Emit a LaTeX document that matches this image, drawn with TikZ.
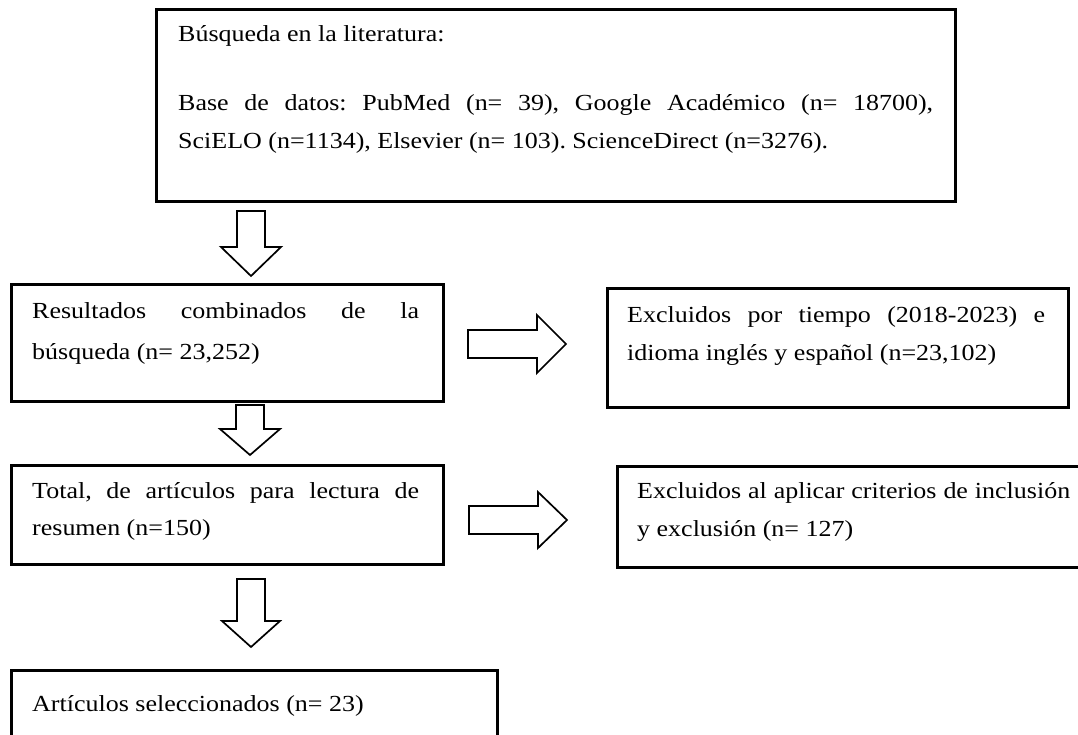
\documentclass[tikz,border=0pt]{standalone}
\usepackage{fontspec}
\setmainfont{Liberation Serif}[FakeStretch=1.13]
\frenchspacing
\begin{document}
\begin{tikzpicture}[x=1pt,y=-1pt,
  box/.style={draw=black, line width=2.6pt, rectangle, anchor=north west, inner sep=0pt},
  txt/.style={anchor=base west, inner sep=0pt, font=\fontsize{23}{28}\selectfont},
  blockarrow/.style={draw=black, line width=1.7pt, fill=white, line join=miter}]
\useasboundingbox (0,0) rectangle (1078,734);
\clip (0,0) rectangle (1078,734);
\fill[white] (0,0) rectangle (1078,734);

% boxes
\node[box, minimum width=799pt, minimum height=192pt] (b1) at (155,8) {};
\node[box, minimum width=432pt, minimum height=117pt] (b2) at (10,283) {};
\node[box, minimum width=432pt, minimum height=99pt] (b3) at (10,464) {};
\node[box, minimum width=486pt, minimum height=100pt] (b4) at (10,669) {};
\node[box, minimum width=461pt, minimum height=119pt] (e1) at (606,287) {};
\node[box, minimum width=484pt, minimum height=101pt] (e2) at (616,465) {};

% texts
\node[txt] (t1a) at (178,41) {Búsqueda en la literatura:};
\node[txt] (t1b) at (178,110) {\makebox[755pt][s]{Base de datos: PubMed (n= 39), Google Académico (n= 18700),}};
\node[txt] (t1c) at (178,148) {SciELO (n=1134), Elsevier (n= 103). ScienceDirect (n=3276).};
\node[txt] (t2a) at (32,318) {\makebox[387pt][s]{Resultados combinados de la}};
\node[txt] (t2b) at (32,359) {búsqueda (n= 23,252)};
\node[txt] (t3a) at (32,498) {\makebox[387pt][s]{Total, de artículos para lectura de}};
\node[txt] (t3b) at (32,535) {resumen (n=150)};
\node[txt] (t4) at (32,711) {Artículos seleccionados (n= 23)};
\node[txt] (te1a) at (627,322) {\makebox[418pt][s]{Excluidos por tiempo (2018-2023) e}};
\node[txt] (te1b) at (627,360) {idioma inglés y español (n=23,102)};
\node[txt] (te2a) at (637,498) {\makebox[433pt][s]{Excluidos al aplicar criterios de inclusión}};
\node[txt] (te2b) at (637,536) {y exclusión (n= 127)};

% block arrows
\coordinate (a1) at (251,211);
\coordinate (a2) at (250,405);
\coordinate (a3) at (251,579);
\coordinate (r1) at (468,344);
\coordinate (r2) at (469,520);
\draw[blockarrow] (a1) ++(-14,0) -- ++(28,0) -- ++(0,36) -- ++(16,0) -- ++(-30,29) -- ++(-30,-29) -- ++(16,0) -- cycle;
\draw[blockarrow] (a2) ++(-14,0) -- ++(28,0) -- ++(0,24) -- ++(16,0) -- ++(-30,26) -- ++(-30,-26) -- ++(16,0) -- cycle;
\draw[blockarrow] (a3) ++(-14,0) -- ++(28,0) -- ++(0,42) -- ++(15,0) -- ++(-29,26) -- ++(-29,-26) -- ++(15,0) -- cycle;
\draw[blockarrow] (r1) ++(0,-14) -- ++(69,0) -- ++(0,-15) -- ++(29,29) -- ++(-29,29) -- ++(0,-15) -- ++(-69,0) -- cycle;
\draw[blockarrow] (r2) ++(0,-14) -- ++(69,0) -- ++(0,-14) -- ++(29,28) -- ++(-29,28) -- ++(0,-14) -- ++(-69,0) -- cycle;
\end{tikzpicture}
\end{document}
